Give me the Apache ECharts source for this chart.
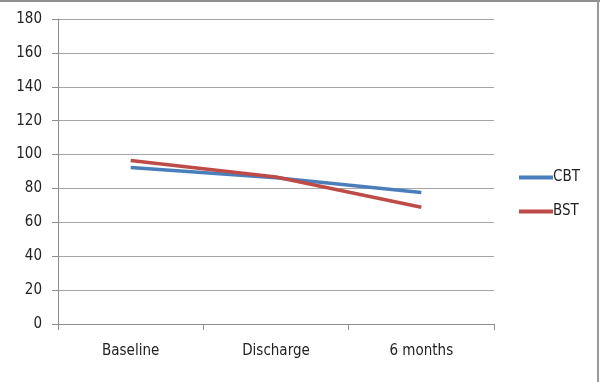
<!DOCTYPE html>
<html>
<head>
<meta charset="utf-8">
<script src="https://cdn.jsdelivr.net/npm/echarts@6/dist/echarts.min.js"></script>
<style>
	html, body { margin: 0; padding: 0; background: #fff; }
	#chart { width: 600px; height: 382px; }
</style>
</head>
<body>
<div id="chart"></div>
<script>
const categories = ['Baseline', 'Discharge', '6 months'];
const cbtValues = [92.3, 86.3, 77.6];
const bstValues = [96.5, 86.8, 68.9];

const fontFam = '"DejaVu Sans Condensed", "DejaVu Sans", sans-serif';

let chart = echarts.init(document.getElementById('chart'));
let option = {
	animation: false,
	backgroundColor: '#fff',
	grid: {
		left: 58,
		right: 106,
		top: 19,
		bottom: 58
	},
	legend: {
		orient: 'vertical',
		left: 519,
		top: 170,
		padding: 0,
		itemWidth: 34,
		itemHeight: 4,
		itemGap: 19,
		icon: 'rect',
		textStyle: {
			fontFamily: fontFam,
			fontSize: 15,
			color: '#222',
			padding: [0, 0, 0, -5]
		},
		data: ['CBT', 'BST']
	},
	xAxis: {
		type: 'category',
		data: categories,
		boundaryGap: true,
		axisLine: { lineStyle: { color: '#8c8c8c', width: 1 } },
		axisTick: { show: true, length: 6, lineStyle: { color: '#8c8c8c' } },
		axisLabel: {
			margin: 20,
			fontFamily: fontFam,
			fontSize: 15,
			color: '#222'
		},
		splitLine: { show: false }
	},
	yAxis: {
		type: 'value',
		min: 0,
		max: 180,
		interval: 20,
		axisLine: { show: true, lineStyle: { color: '#8c8c8c', width: 1 } },
		axisTick: { show: true, length: 6, lineStyle: { color: '#8c8c8c' } },
		axisLabel: {
			margin: 16,
			fontFamily: fontFam,
			fontSize: 15,
			color: '#222'
		},
		splitLine: { lineStyle: { color: '#a6a6a6', width: 1 } }
	},
	series: [{
			name: 'CBT',
			type: 'line',
			data: cbtValues,
			symbol: 'none',
			color: '#4a7ebb',
			lineStyle: { width: 3.5, color: '#4a7ebb' }
		},
		{
			name: 'BST',
			type: 'line',
			data: bstValues,
			symbol: 'none',
			color: '#be4b48',
			lineStyle: { width: 3.5, color: '#be4b48' }
		}
	],
	graphic: [{
			type: 'rect',
			shape: { x: 0, y: 0, width: 600, height: 2 },
			style: { fill: '#8f8f8f' }
		},
		{
			type: 'rect',
			shape: { x: 597, y: 0, width: 2, height: 382 },
			style: { fill: '#9a9a9a' }
		}
	]
};
chart.setOption(option);
</script>
</body>
</html>
